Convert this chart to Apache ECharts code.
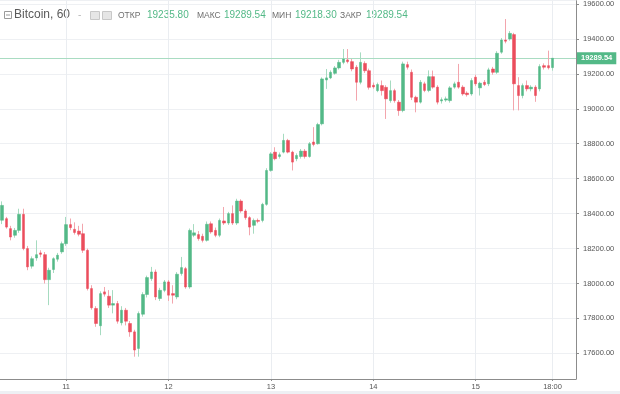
<!DOCTYPE html>
<html>
<head>
<meta charset="utf-8">
<script src="https://cdn.jsdelivr.net/npm/echarts@6/dist/echarts.min.js"></script>
<style>
html,body{margin:0;padding:0;background:#fff;}
#chart{width:620px;height:394px;}
</style>
</head>
<body>
<div id="chart"></div>
<script>
// ---- data (hourly candles, Bitcoin, 60) ----
const opens = [
18362,18371,18314,18276,18304,18396,18200,18099,18146,18175,
18165,18022,18080,18139,18181,18228,18337,18310,18300,18285,
18190,17971,17857,17758,17952,17927,17876,17885,17775,17847,
17771,17723,17628,17824,17937,18028,18066,17914,17961,18009,
17942,17923,18057,18085,17980,18276,18280,18270,18247,18342,
18304,18276,18358,18346,18400,18346,18472,18415,18377,18333,
18361,18361,18453,18647,18752,18727,18752,18819,18752,18714,
18727,18758,18727,18810,18800,18914,19165,19177,19203,19234,
19266,19280,19270,19238,19152,19260,19218,19135,19104,19133,
19123,19047,19104,19038,18990,19253,19209,19066,19038,19143,
19105,19184,19124,19045,19050,19047,19124,19152,19124,19090,
19085,19181,19120,19152,19143,19228,19209,19324,19394,19400,
19425,19133,19076,19133,19114,19124,19114,19247,19247,19235.80];
const closes = [
18447,18323,18266,18304,18396,18200,18095,18142,18165,18167,
18022,18076,18142,18162,18228,18337,18320,18292,18282,18190,
17971,17861,17771,17942,17939,17876,17885,17784,17847,17784,
17723,17619,17828,17937,18034,18066,17923,17961,18009,17933,
17933,18053,18091,17980,18304,18290,18257,18247,18339,18295,
18276,18361,18346,18400,18346,18472,18415,18377,18323,18361,
18356,18453,18647,18742,18714,18737,18819,18752,18695,18733,
18758,18727,18800,18796,18910,19171,19177,19209,19234,19266,
19285,19270,19228,19152,19266,19218,19123,19125,19139,19104,
19057,19104,19047,18990,19257,19238,19066,19038,19152,19105,
19184,19124,19038,19052,19057,19120,19143,19124,19085,19081,
19162,19143,19147,19139,19223,19209,19318,19394,19387,19432,
19143,19076,19133,19114,19124,19076,19242,19238,19235,19289.54];
const lows = [
18340,18314,18247,18262,18290,18190,18076,18085,18130,18150,
18000,17876,18060,18125,18170,18215,18305,18280,18270,18175,
17960,17850,17752,17704,17925,17860,17829,17770,17760,17760,
17695,17581,17581,17810,17920,18015,17905,17900,17950,17900,
17885,17910,18045,17970,17970,18265,18245,18235,18240,18285,
18265,18265,18335,18335,18335,18335,18405,18365,18276,18285,
18345,18350,18445,18640,18705,18715,18745,18745,18647,18700,
18715,18715,18720,18785,18795,18905,19114,19170,19195,19225,
19255,19260,19215,19047,19140,19205,19110,19115,19095,19076,
18942,19035,19035,18960,18980,19225,19050,18980,19030,19095,
19095,19115,19025,19030,19040,19035,19115,19115,19075,19070,
19075,19130,19076,19130,19130,19195,19200,19315,19375,19390,
18991,18991,19060,19100,19100,19040,19100,19225,19225,19218.30];
const highs = [
18470,18381,18330,18318,18428,18428,18215,18155,18247,18190,
18180,18090,18150,18175,18240,18381,18372,18350,18330,18342,
18200,17990,17870,17955,17980,17962,17962,17900,17870,17860,
17785,17735,17840,17950,18045,18095,18080,17975,18020,18020,
17990,18065,18152,18095,18315,18340,18300,18285,18355,18355,
18320,18372,18438,18410,18447,18485,18482,18425,18385,18372,
18372,18462,18660,18752,18780,18750,18857,18828,18760,18745,
18770,18770,18810,18895,18920,19180,19228,19220,19245,19280,
19342,19342,19285,19250,19323,19272,19230,19150,19150,19162,
19135,19162,19115,19050,19270,19270,19225,19075,19165,19155,
19220,19219,19135,19065,19070,19130,19155,19257,19135,19100,
19175,19195,19155,19165,19235,19240,19330,19405,19514,19445,
19435,19181,19145,19162,19135,19135,19255,19260,19333,19289.54];

// x-axis tick labels (category index -> text)
const tickIndex = [15, 39, 63, 87, 111, 129];
const tickText  = ['11', '12', '13', '14', '15', '18:00'];
const emptySlots = 5;

// header values
const hdrTitle = 'Bitcoin, 60';
const hdrNames = ['ОТКР', 'МАКС', 'МИН', 'ЗАКР'];
const hdrVals  = ['19235.80', '19289.54', '19218.30', '19289.54'];
const lastPrice = 19289.54;

// ---- build ----
const categories = [];
for (let i = 0; i < opens.length + emptySlots; i++) {
  const h = (i + 9);
  const day = 10 + Math.floor(h / 24);
  categories.push(day + ' ' + String(h % 24).padStart(2, '0') + ':00');
}
const wickData = opens.map((o, i) => [o, closes[i], lows[i], highs[i]]);
const bodyData = opens.map((o, i) => [o, closes[i], Math.min(o, closes[i]), Math.max(o, closes[i])]);

const UP = '#53b987', DOWN = '#eb4d5c';
const FONT = 'Liberation Sans';
const axisGray = '#8c8c8c';
const gridCol = '#eef0f3';

const chart = echarts.init(document.getElementById('chart'), null, {renderer: 'canvas'});

const hdrGraphics = [];
// collapse icon
hdrGraphics.push({type: 'rect', shape: {x: 4.5, y: 11.5, width: 7, height: 7},
  style: {fill: '#fff', stroke: '#9a9a9a', lineWidth: 1}});
hdrGraphics.push({type: 'line', shape: {x1: 6, y1: 15, x2: 10, y2: 15},
  style: {stroke: '#9a9a9a', lineWidth: 1}});
hdrGraphics.push({type: 'text', left: 14, top: 9,
  style: {text: hdrTitle, font: '12px ' + FONT, fill: '#5a5a5a'}});
hdrGraphics.push({type: 'text', left: 78, top: 10,
  style: {text: '-', font: '10px ' + FONT, fill: '#b8b8b8'}});
hdrGraphics.push({type: 'rect', shape: {x: 90.5, y: 11.5, width: 9, height: 8},
  style: {fill: '#e6e6e6', stroke: '#c8c8c8', lineWidth: 1}});
hdrGraphics.push({type: 'rect', shape: {x: 102.5, y: 11.5, width: 9, height: 8},
  style: {fill: '#e6e6e6', stroke: '#c8c8c8', lineWidth: 1}});
const nameX = [118, 197, 272, 340];
const valX  = [147, 224, 295, 366];
for (let i = 0; i < hdrNames.length; i++) {
  hdrGraphics.push({type: 'text', left: nameX[i], top: 11.5,
    style: {text: hdrNames[i], font: '8.5px ' + FONT, fill: '#6f6f6f'}});
  hdrGraphics.push({type: 'text', left: valX[i], top: 10.5,
    style: {text: hdrVals[i], font: '10px ' + FONT, fill: UP}});
}
hdrGraphics.push({type: 'rect', shape: {x: 0, y: 391, width: 620, height: 3},
  style: {fill: '#eef0f4'}, z: -1});

const vLines = tickIndex.map(i => ({xAxis: i}));

chart.setOption({
  animation: false,
  backgroundColor: '#ffffff',
  graphic: hdrGraphics,
  grid: {left: -1.44, right: 44, top: 0, bottom: 15, containLabel: false},
  xAxis: {
    type: 'category',
    data: categories,
    boundaryGap: true,
    axisLine: {show: true, lineStyle: {color: axisGray, width: 1}},
    axisTick: {show: true, alignWithLabel: true, length: 2,
      interval: (idx) => tickIndex.indexOf(idx) >= 0, lineStyle: {color: axisGray}},
    axisLabel: {show: true, interval: (idx) => tickIndex.indexOf(idx) >= 0,
      formatter: (v, idx) => { const k = tickIndex.indexOf(idx); return k >= 0 ? tickText[k] : ''; },
      fontFamily: FONT, fontSize: 7.5, color: '#555', margin: 4},
    splitLine: {show: false}
  },
  yAxis: {
    type: 'value',
    position: 'right',
    scale: true,
    min: 17453.2,
    max: 19618.9,
    splitNumber: 11,
    axisLine: {show: true, lineStyle: {color: axisGray, width: 1}},
    axisTick: {show: true, length: 3, inside: false, lineStyle: {color: axisGray}},
    axisLabel: {show: true, formatter: (v) => v.toFixed(2), fontFamily: FONT, fontSize: 7.5,
      color: '#555', margin: 7, showMinLabel: false, showMaxLabel: false},
    splitLine: {show: true, lineStyle: {color: gridCol, width: 1}}
  },
  series: [
    {
      name: 'wicks',
      type: 'candlestick',
      data: wickData,
      barWidth: 1,
      z: 2,
      clip: true,
      itemStyle: {color: '#a6dbc0', color0: '#f3a5ad', borderColor: '#a6dbc0', borderColor0: '#f3a5ad', borderWidth: 1},
      markLine: {
        silent: true, symbol: ['none', 'none'], z: 1, animation: false,
        label: {show: false},
        data: vLines.concat([{
          yAxis: lastPrice,
          lineStyle: {color: '#a9dcc2', width: 1, type: 'solid'},
          label: {show: true, position: 'end', distance: 1, formatter: lastPrice.toFixed(2),
            backgroundColor: UP, color: '#fff', fontFamily: FONT, fontSize: 7.5, fontWeight: 'bold',
            padding: [2, 4, 2, 4]}
        }]),
        lineStyle: {color: '#eaedf1', width: 1, type: 'solid'}
      }
    },
    {
      name: 'bodies',
      type: 'candlestick',
      data: bodyData,
      barWidth: 3,
      z: 3,
      clip: true,
      itemStyle: {color: UP, color0: DOWN, borderColor: UP, borderColor0: DOWN, borderWidth: 0.5}
    }
  ]
});
</script>
</body>
</html>
